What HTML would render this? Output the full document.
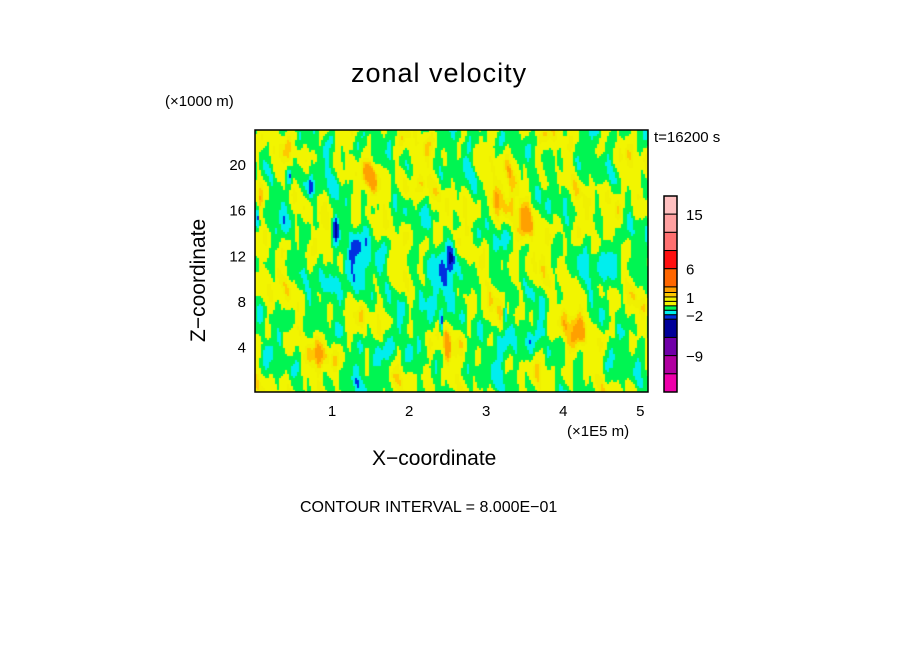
<!DOCTYPE html>
<html><head><meta charset="utf-8"><style>
html,body{margin:0;padding:0;background:#fff}
#wrap{position:relative;width:904px;height:654px;overflow:hidden;font-family:"Liberation Sans",sans-serif;color:#000}
.t{position:absolute;white-space:nowrap}
</style></head><body>
<div id="wrap">
<div class="t" style="left:351px;top:58px;font-size:27px;letter-spacing:1px">zonal velocity</div>
<div class="t" style="left:165px;top:93px;font-size:15px">(×1000 m)</div>
<div class="t" style="left:654px;top:129px;font-size:15px">t=16200 s</div>
<div class="t" style="left:567px;top:423px;font-size:15px">(×1E5 m)</div>
<div class="t" style="left:372px;top:447px;font-size:21px">X−coordinate</div>
<div class="t" style="left:187px;top:342px;font-size:21px;transform:rotate(-90deg);transform-origin:0 0">Z−coordinate</div>
<div class="t" style="left:300px;top:499px;font-size:16px">CONTOUR INTERVAL = 8.000E−01</div>
<canvas id="cv" width="393" height="262" style="position:absolute;left:255px;top:130px"></canvas>
<svg id="sv" width="904" height="654" style="position:absolute;left:0;top:0"></svg>
</div>
<script>
const xTicks=[1,2,3,4,5];
const zTicks=[4,8,12,16,20];
const cbLevels=[18,15,12,9,6,3,1.6,1.2,0.8,0,-0.8,-1.6,-2.4,-6,-9,-12,-15];
const cbColors=["#ffc0c0","#ffa0a0","#ff7070","#ff1010","#ff6600","#ffa000","#ffc800","#f0f000","#f2f500","#00f552","#00eeee","#0030e0","#000099","#7000a8","#b000a0","#ee00aa"];
const cbLabels=[15,6,1,-2,-9];
// features: x (1E5 m), z (km), amplitude, sx, sz
const featX=[2.55,1.05,0.72,0.45,2.3,4.6,3.5,2.42,2.5,1.25,3.2,4.1,0.05,3.35,2.1,4.7,1.5,0.9,0.03,3.25,1.6];
const featZ=[12,14.5,18,19,9,12,15,6,4.5,11,17,6,16.5,4,18,15,19,3,15.5,7,3];
const featA=[-3.2,-2.6,-2.4,-2.2,-1.3,-1.3,1.3,-2.4,2.0,-1.3,1.2,1.2,1.8,-1.2,1.2,1.4,1.0,1.0,-2.4,-2.2,-1.2];
const featSX=[0.06,0.035,0.045,0.04,0.22,0.18,0.18,0.025,0.05,0.28,0.18,0.18,0.05,0.22,0.18,0.12,0.15,0.18,0.025,0.025,0.18];
const featSZ=[1.3,1.3,1.1,0.9,2.8,2.8,2.2,1.3,1.5,2.8,1.8,2.2,1.4,1.8,1.4,2.2,1.4,1.4,1.1,1,1.4];
const xMin=0,xMax=5.1,zMin=0,zMax=23;
const L=255,T=130,W=393,H=262;
const sx=v=>L+(v-xMin)/(xMax-xMin)*W;
const sz=v=>T+H-(v-zMin)/(zMax-zMin)*H;
function field(x,z){
  let v=0.45*Math.sin(x*7+z*0.5+1)+0.4*Math.sin(x*17+Math.sin(z*0.7)*2)+0.3*Math.sin(x*31+z*0.3+Math.sin(z*1.3))
   +0.3*Math.sin(z*1.5+x*3)+0.12*Math.sin(x*60+z*0.9)+0.2*Math.sin(x*4-z*0.6);
  for(let i=0;i<featX.length;i++){
    const dx=(x-featX[i])/featSX[i],dz=(z-featZ[i])/featSZ[i];
    v+=featA[i]*Math.exp(-(dx*dx+dz*dz));
  }
  return v;
}
function colorFor(v){
  for(let i=0;i<cbColors.length;i++){ if(v>=cbLevels[i+1]) return cbColors[i]; }
  return cbColors[cbColors.length-1];
}
const cv=document.getElementById('cv'),ctx=cv.getContext('2d');
for(let py=0;py<H;py+=2){for(let px=0;px<W;px+=2){
  const x=xMin+(px+1)/W*(xMax-xMin), z=zMax-(py+1)/H*(zMax-zMin);
  ctx.fillStyle=colorFor(field(x,z)); ctx.fillRect(px,py,2,2);
}}
const NS='http://www.w3.org/2000/svg',sv=document.getElementById('sv');
function mk(t,a){const e=document.createElementNS(NS,t);for(const k in a)e.setAttribute(k,a[k]);sv.appendChild(e);return e;}
const fr=mk('rect',{x:L,y:T,width:W,height:H,fill:'none',stroke:'#000','stroke-width':1.5});


xTicks.forEach(v=>{const t=mk('text',{x:sx(v),y:416,'font-size':15,'text-anchor':'middle','font-family':'Liberation Sans'});t.textContent=v;

});
zTicks.forEach(v=>{const t=mk('text',{x:246,y:sz(v)+6,'font-size':15,'text-anchor':'end','font-family':'Liberation Sans'});t.textContent=v;

});
const cbTop=196,cbBot=392,cbX=664,cbW=13;
const segH=[];cbColors.forEach((c,i)=>{const d=Math.abs(cbLevels[i]-cbLevels[i+1]);segH.push(d>=2.9?16.3:(d>=1.2?5:4));});
const tot=segH.reduce((a,b)=>a+b,0);let y=cbTop;const segTop=[];
cbColors.forEach((c,i)=>{const h=segH[i]/tot*(cbBot-cbTop);segTop.push(y);
 const r=mk('rect',{x:cbX,y:y,width:cbW,height:h,fill:c,stroke:'#000','stroke-width':1});
 
 
 y+=h;});
segTop.push(cbBot);
mk('rect',{x:cbX,y:cbTop,width:cbW,height:cbBot-cbTop,fill:'none',stroke:'#000','stroke-width':1.5});
cbLabels.forEach(v=>{let i=cbLevels.findIndex(l=>Math.abs(l-v)<0.45);if(i<0)i=0;
 const t=mk('text',{x:686,y:segTop[i]+6,'font-size':15,'font-family':'Liberation Sans'});t.textContent=v<0?'−'+(-v):v;
 
 });
</script>
</body></html>
